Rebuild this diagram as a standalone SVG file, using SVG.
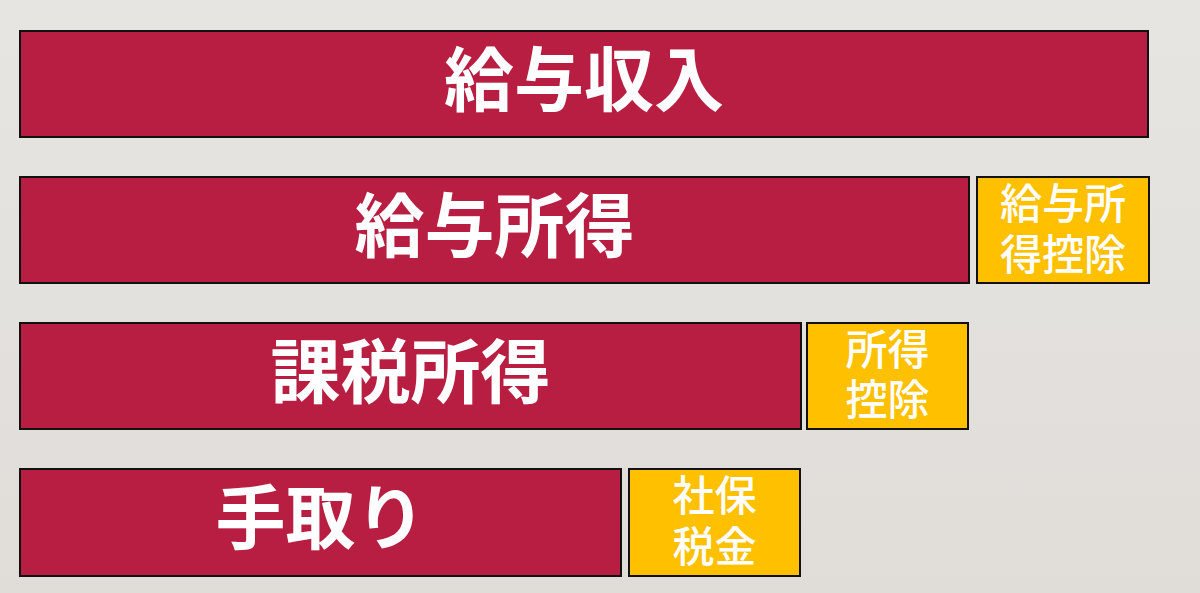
<svg xmlns="http://www.w3.org/2000/svg" width="1200" height="593" viewBox="0 0 1200 593">
<defs>
<linearGradient id="bg" x1="0" y1="0" x2="0" y2="1">
<stop offset="0" stop-color="#e7e5e1"/>
<stop offset="1" stop-color="#e0ddd9"/>
</linearGradient>
<style>
.red{fill:#b81e41;stroke:#111;stroke-width:2}
.yel{fill:#ffc000;stroke:#111;stroke-width:2}
.big{font-family:"Noto Sans CJK JP","Noto Sans CJK SC",sans-serif;font-weight:600;font-size:70px;fill:#fff;text-anchor:middle}
.sm{font-family:"Noto Sans CJK JP","Noto Sans CJK SC",sans-serif;font-weight:500;font-size:42px;fill:#fff;text-anchor:middle}
</style>
</defs>
<rect width="1200" height="593" fill="url(#bg)"/>
<g id="kyuyo-shunyu">
<rect class="red" x="20" y="31" width="1128" height="106"/>
<text class="big" x="584" y="106">給与収入</text>
</g>
<g id="kyuyo-shotoku">
<rect class="red" x="20" y="177" width="949" height="106"/>
<text class="big" x="494.5" y="252">給与所得</text>
</g>
<g id="kyuyo-shotoku-kojo">
<rect class="yel" x="977" y="177" width="172" height="106"/>
<text class="sm" x="1063" y="218.5">給与所</text>
<text class="sm" x="1063" y="269.5">得控除</text>
</g>
<g id="kazei-shotoku">
<rect class="red" x="20" y="323" width="781" height="106"/>
<text class="big" x="410.5" y="398">課税所得</text>
</g>
<g id="shotoku-kojo">
<rect class="yel" x="807" y="323" width="161" height="106"/>
<text class="sm" x="887.5" y="365">所得</text>
<text class="sm" x="887.5" y="415">控除</text>
</g>
<g id="tedori">
<rect class="red" x="20" y="469" width="601" height="107"/>
<text class="big" x="320.5" y="544">手取り</text>
</g>
<g id="shaho-zeikin">
<rect class="yel" x="629" y="469" width="171" height="107"/>
<text class="sm" x="714.5" y="511">社保</text>
<text class="sm" x="714.5" y="561.5">税金</text>
</g>
<g id="connectors"/>
</svg>
